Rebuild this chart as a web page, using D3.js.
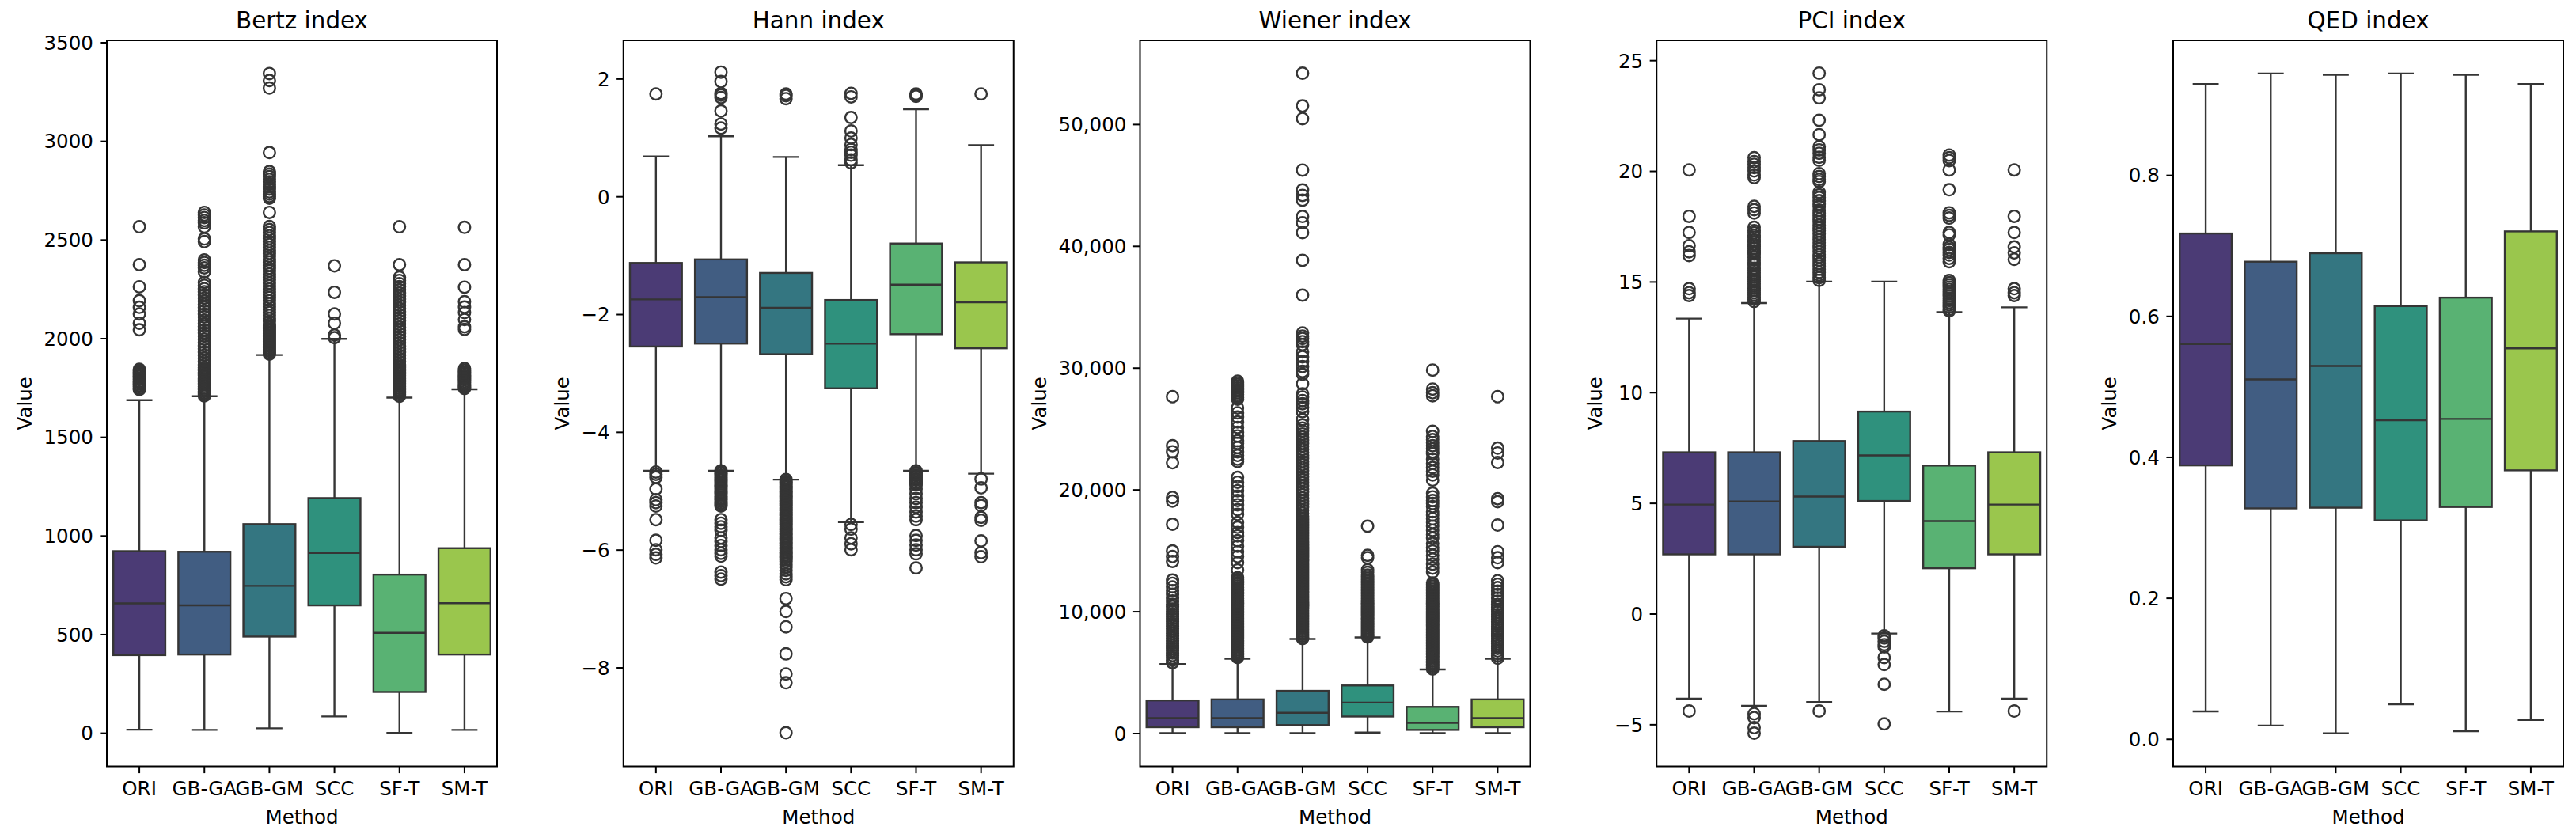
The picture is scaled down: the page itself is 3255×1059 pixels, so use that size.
<!DOCTYPE html>
<html>
<head>
<meta charset="utf-8">
<script src="https://cdn.jsdelivr.net/npm/d3@7"></script>
<style>
  body { margin: 0; background: #fff; }
  text { font-family: "DejaVu Sans", sans-serif; fill: #000; }
</style>
</head>
<body>
<div id="chart"></div>
<script>
// categories
const methods = ['ORI', 'GB-GA', 'GB-GM', 'SCC', 'SF-T', 'SM-T'];

// box stats per method: [lower whisker, q1, median, q3, upper whisker]
const bertzStats = [
  [16, 394, 656, 921, 1686],
  [15, 397, 646, 918, 1706],
  [23, 488, 745, 1058, 1915],
  [83, 646, 912, 1190, 1997],
  [0, 207, 507, 802, 1699],
  [15, 397, 657, 936, 1741]
];
const bertzOutliers = [
  [2565, 2373, 2261, 2190, 2157, 2123, 2076, 2043, 1842, 1835, 1827, 1820, 1812, 1806, 1797, 1790, 1782, 1776, 1768, 1761, 1754, 1746, 1740],
  [2638, 2625, 2612, 2597, 2585, 2565, 2504, 2490, 2397, 2384, 2370, 2357, 2337, 2283, 2268, 2251, 2236, 2219, 2203, 2188, 2171, 2156, 2139, 2122, 2108, 2091, 2074, 2060, 2042, 2027, 2011, 1995, 1979, 1962, 1947, 1930, 1914, 1899, 1882, 1866, 1851, 1843, 1836, 1827, 1819, 1812, 1803, 1795, 1788, 1779, 1771, 1764, 1755, 1747, 1740, 1731, 1723, 1716, 1708],
  [3342, 3306, 3268, 2941, 2845, 2832, 2820, 2806, 2793, 2781, 2768, 2756, 2742, 2731, 2719, 2710, 2638, 2566, 2551, 2536, 2520, 2506, 2490, 2476, 2461, 2445, 2430, 2416, 2400, 2386, 2370, 2355, 2341, 2325, 2310, 2296, 2280, 2265, 2250, 2235, 2220, 2206, 2190, 2175, 2160, 2145, 2131, 2116, 2100, 2086, 2071, 2062, 2055, 2047, 2039, 2031, 2023, 2015, 2007, 1999, 1991, 1983, 1975, 1967, 1959, 1951, 1943, 1935, 1927, 1920],
  [2367, 2233, 2123, 2076, 2016, 2003],
  [2565, 2373, 2309, 2293, 2277, 2262, 2246, 2230, 2214, 2198, 2183, 2167, 2151, 2135, 2119, 2104, 2088, 2072, 2056, 2040, 2025, 2009, 1993, 1977, 1961, 1946, 1930, 1914, 1898, 1882, 1866, 1858, 1850, 1842, 1834, 1826, 1818, 1810, 1802, 1794, 1786, 1778, 1770, 1762, 1754, 1746, 1738, 1730, 1722, 1714, 1706],
  [2562, 2373, 2259, 2185, 2158, 2130, 2095, 2058, 2045, 1846, 1838, 1829, 1821, 1812, 1805, 1797, 1789, 1781, 1774, 1766, 1759, 1752, 1745]
];

const hannStats = [
  [-4.66, -2.55, -1.75, -1.13, 0.68],
  [-4.66, -2.50, -1.71, -1.07, 1.02],
  [-4.81, -2.68, -1.89, -1.30, 0.67],
  [-5.53, -3.26, -2.50, -1.76, 0.53],
  [-4.66, -2.34, -1.50, -0.80, 1.48],
  [-4.71, -2.58, -1.80, -1.12, 0.87]
];
const hannOutliers = [
  [1.74, -4.68, -4.72, -4.77, -4.97, -5.15, -5.20, -5.26, -5.49, -5.84, -6.00, -6.08, -6.14],
  [2.11, 1.95, 1.75, 1.72, 1.68, 1.45, 1.23, 1.16, -4.66, -4.69, -4.71, -4.74, -4.77, -4.80, -4.82, -4.85, -4.88, -4.91, -4.93, -4.96, -4.99, -5.02, -5.04, -5.07, -5.10, -5.13, -5.15, -5.18, -5.21, -5.24, -5.26, -5.49, -5.55, -5.61, -5.67, -5.80, -5.86, -5.93, -6.00, -6.06, -6.11, -6.38, -6.44, -6.50],
  [1.74, 1.71, 1.66, -4.81, -4.84, -4.86, -4.89, -4.92, -4.94, -4.97, -5.00, -5.02, -5.05, -5.08, -5.10, -5.13, -5.16, -5.18, -5.21, -5.24, -5.26, -5.29, -5.32, -5.34, -5.37, -5.40, -5.42, -5.45, -5.48, -5.50, -5.53, -5.56, -5.58, -5.61, -5.64, -5.66, -5.69, -5.72, -5.74, -5.77, -5.80, -5.82, -5.85, -5.88, -5.90, -5.93, -5.96, -5.98, -6.01, -6.04, -6.06, -6.09, -6.12, -6.14, -6.17, -6.20, -6.25, -6.30, -6.35, -6.41, -6.46, -6.51, -6.83, -7.05, -7.31, -7.77, -8.11, -8.26, -9.11],
  [1.75, 1.69, 1.34, 1.11, 0.99, 0.88, 0.80, 0.75, 0.70, 0.62, 0.57, -5.57, -5.65, -5.80, -5.90, -6.00],
  [1.74, 1.72, 1.70, -4.66, -4.69, -4.71, -4.74, -4.77, -4.80, -4.82, -4.85, -4.88, -4.90, -4.97, -5.05, -5.13, -5.20, -5.28, -5.36, -5.43, -5.49, -5.76, -5.84, -5.92, -6.00, -6.07, -6.31],
  [1.74, -4.80, -4.95, -5.20, -5.25, -5.45, -5.50, -5.85, -6.05, -6.12]
];

const wienerStats = [
  [0, 487, 1234, 2683, 5666],
  [0, 487, 1234, 2770, 6107],
  [0, 663, 1670, 3470, 7733],
  [45, 1365, 2508, 3912, 7863],
  [0, 266, 838, 2157, 5224],
  [0, 487, 1234, 2770, 6107]
];
const wienerOutliers = [
  [27620, 23600, 23100, 22200, 19350, 19050, 17150, 14950, 14500, 14100, 12570, 12300, 12000, 11700, 11400, 11100, 10850, 10580, 10380, 10180, 9980, 9780, 9580, 9380, 9180, 8980, 8780, 8580, 8380, 8180, 7980, 7780, 7580, 7380, 7180, 6980, 6780, 6580, 6380, 6180, 5980, 5780],
  [28900, 28760, 28620, 28490, 28350, 28210, 28080, 27950, 27810, 27680, 27550, 27420, 26700, 26300, 25950, 25550, 25100, 24700, 24400, 24000, 23800, 23450, 23100, 22800, 22500, 22300, 21000, 20600, 20250, 19900, 19460, 19100, 18750, 18350, 17960, 17300, 16900, 16470, 16200, 15800, 15350, 14900, 14500, 14000, 13400,
   12760, 12620, 12490, 12350, 12230, 12090, 11960, 11830, 11700, 11560, 11440, 11300, 11170, 11040, 10910, 10770, 10650, 10510, 10380, 10250, 10120, 9990, 9860, 9720, 9600, 9460, 9330, 9200, 9070, 8940, 8810, 8670, 8550, 8410, 8280, 8150, 8020, 7890, 7760, 7620, 7500, 7360, 7230, 7100, 6970, 6840, 6710, 6570, 6450, 6320, 6200],
  [54180, 51500, 50450, 46230, 44600, 44150, 43760, 42420, 41900, 41100, 38820, 35960, 32850, 32600, 32400, 32150, 31900, 31300, 30900, 30500, 30100, 29700, 29460, 28680, 27850, 27600, 27300, 27050, 26750, 26400, 25760,
   25300, 25050, 24800, 24560, 24300, 24050, 23800, 23560, 23300, 23050, 22800, 22560, 22300, 22050, 21800, 21560, 21300, 21050, 20800, 20560, 20300, 20050, 19800, 19560, 19300, 19050, 18800, 18560, 18300, 18050, 17800,
   17660, 17530, 17400, 17270, 17140, 17010, 16880, 16740, 16620, 16480, 16350, 16220, 16090, 15960, 15830, 15700, 15560, 15440, 15300, 15170, 15040, 14910, 14780, 14650, 14520, 14390, 14250, 14130, 13990, 13860, 13730, 13600, 13470, 13340, 13210, 13080, 12940, 12820, 12680, 12550, 12420, 12290, 12160, 12030, 11900, 11770, 11630, 11510, 11370, 11240, 11110, 10980, 10850, 10720, 10590, 10460, 10320, 10200, 10060, 9930, 9800, 9670, 9540, 9410, 9280, 9150, 9010, 8890, 8750, 8620, 8490, 8360, 8230, 8100, 7970, 7840, 7760],
  [16990, 14600, 14400, 13410, 13200, 12980, 12850, 12720, 12590, 12460, 12330, 12200, 12060, 11940, 11800, 11670, 11540, 11410, 11280, 11150, 11020, 10890, 10750, 10630, 10490, 10360, 10230, 10100, 9970, 9840, 9710, 9580, 9440, 9320, 9180, 9050, 8920, 8790, 8660, 8530, 8400, 8270, 8130, 8010, 7900],
  [29810, 28250, 27950, 27700, 24780, 24350, 24100, 23850, 23600, 23350, 23100, 22940, 22500, 22150, 21800, 21500, 21200, 20775, 19700, 19400, 19100, 18850, 18600, 18180, 17900, 17600, 17300, 16990, 16650, 16300, 16010, 15570, 15250, 14950, 14600, 14280, 13870, 13550, 13220,
   12330, 12200, 12070, 11940, 11810, 11680, 11540, 11420, 11280, 11150, 11020, 10890, 10760, 10630, 10500, 10370, 10230, 10110, 9970, 9840, 9710, 9580, 9450, 9320, 9190, 9060, 8920, 8800, 8660, 8530, 8400, 8270, 8140, 8010, 7880, 7750, 7610, 7490, 7350, 7220, 7090, 6960, 6830, 6700, 6570, 6440, 6300, 6180, 6040, 5910, 5780, 5650, 5520, 5390, 5260],
  [27620, 23400, 23000, 22220, 19250, 19000, 17080, 14900, 14400, 14000, 12510, 12220, 11950, 11660, 11380, 11090, 10830, 10560, 10350, 10150, 9950, 9750, 9550, 9350, 9150, 8950, 8750, 8550, 8350, 8150, 7950, 7750, 7550, 7350, 7150, 6950, 6750, 6550, 6350, 6150]
];

const pciStats = [
  [-3.84, 2.68, 4.93, 7.29, 13.33],
  [-4.16, 2.68, 5.07, 7.29, 14.03],
  [-3.99, 3.02, 5.29, 7.80, 15.00],
  [-0.90, 5.09, 7.15, 9.13, 15.00],
  [-4.42, 2.05, 4.18, 6.69, 13.62],
  [-3.84, 2.68, 4.93, 7.29, 13.84]
];
const pciOutliers = [
  [20.05, 17.95, 17.22, 16.62, 16.35, 16.18, 14.68, 14.50, 14.37, -4.40],
  [20.60, 20.42, 20.30, 20.15, 20.00, 19.82, 19.70, 18.40, 18.25, 18.10, 17.45, 17.30, 17.20, 17.08, 17.00, 16.88, 16.80, 16.68, 16.60, 16.50, 16.40, 16.32, 16.25, 16.10, 15.98, 15.85, 15.75, 15.60, 15.50, 15.40, 15.30, 15.20, 15.10, 15.00, 14.90, 14.80, 14.70, 14.60, 14.50, 14.40, 14.30, 14.20, 14.10, -4.52, -4.70, -5.15, -5.40],
  [24.42, 23.67, 23.30, 22.29, 21.64, 21.09, 20.95, 20.80, 20.62, 20.48, 19.88, 19.75, 19.62, 19.52, 19.04, 18.92, 18.80, 18.66, 18.50, 18.38, 18.22, 18.10, 17.96, 17.82, 17.70, 17.55, 17.42, 17.30, 17.16, 17.02, 16.90, 16.76, 16.62, 16.50, 16.36, 16.22, 16.10, 15.96, 15.82, 15.70, 15.56, 15.42, 15.30, 15.18, 15.06, -4.40],
  [-1.00, -1.10, -1.25, -1.40, -1.50, -1.98, -2.30, -3.19, -4.98],
  [20.72, 20.60, 20.47, 20.05, 19.15, 18.11, 17.99, 17.87, 17.22, 17.11, 16.68, 16.55, 16.45, 16.32, 16.20, 16.05, 15.90, 15.05, 14.95, 14.85, 14.75, 14.65, 14.55, 14.45, 14.35, 14.25, 14.15, 14.05, 13.95, 13.85, 13.75, 13.68],
  [20.05, 17.95, 17.22, 16.57, 16.30, 16.01, 14.68, 14.50, 14.37, -4.40]
];

const qedStats = [
  [0.039, 0.388, 0.560, 0.717, 0.929],
  [0.019, 0.327, 0.510, 0.677, 0.944],
  [0.008, 0.328, 0.529, 0.689, 0.942],
  [0.049, 0.310, 0.452, 0.614, 0.944],
  [0.011, 0.329, 0.454, 0.626, 0.942],
  [0.027, 0.381, 0.554, 0.720, 0.929]
];
const qedOutliers = [[], [], [], [], [], []];

// axis ranges and ticks
const bertzDomain = [-170, 3510];
const hannDomain = [-9.68, 2.65];
const wienerDomain = [-2730, 56880];
const pciDomain = [-6.9, 25.9];
const qedDomain = [-0.039, 0.991];

const bertzTicks = [0, 500, 1000, 1500, 2000, 2500, 3000, 3500];
const hannTicks = [-8, -6, -4, -2, 0, 2];
const wienerTicks = [0, 10000, 20000, 30000, 40000, 50000];
const pciTicks = [-5, 0, 5, 10, 15, 20, 25];
const qedTicks = [0, 0.2, 0.4, 0.6, 0.8];

const panels = [
  { title: 'Bertz index', stats: bertzStats, outliers: bertzOutliers, domain: bertzDomain, ticks: bertzTicks, fmt: d3.format('d') },
  { title: 'Hann index', stats: hannStats, outliers: hannOutliers, domain: hannDomain, ticks: hannTicks, fmt: d3.format('d') },
  { title: 'Wiener index', stats: wienerStats, outliers: wienerOutliers, domain: wienerDomain, ticks: wienerTicks, fmt: d3.format(',') },
  { title: 'PCI index', stats: pciStats, outliers: pciOutliers, domain: pciDomain, ticks: pciTicks, fmt: d3.format('d') },
  { title: 'QED index', stats: qedStats, outliers: qedOutliers, domain: qedDomain, ticks: qedTicks, fmt: d3.format('.1f') }
];

// layout
const W = 3255, H = 1059;
const plotTop = 51, plotBottom = 968.5;
const plotW = 493, firstLeft = 135, step = 652.75;
const tickLen = 8.6, tickPad = 8.6;
const fsTick = 24.5, fsTitle = 29.4, fsLabel = 24.5;
const lw = 2.4;

// viridis palette, desaturated like seaborn
const palette = methods.map((m, i) => {
  const c = d3.hsl(d3.interpolateViridis((i + 1) / (methods.length + 1)));
  c.s *= 0.75;
  return c.formatHex();
});
const lum = d3.min(palette, c => d3.hsl(c).l) * 0.6;
const gray = d3.rgb(lum * 255, lum * 255, lum * 255).formatHex();

const svg = d3.select('#chart')
  .append('svg')
  .attr('width', W)
  .attr('height', H);

panels.forEach((p, pi) => {
  const left = firstLeft + step * pi;
  const g = svg.append('g').attr('transform', `translate(${left},${plotTop})`);
  const h = plotBottom - plotTop;

  const x = d3.scaleBand().domain(methods).range([0, plotW]);
  const y = d3.scaleLinear().domain(p.domain).range([h, 0]);
  const bw = x.bandwidth() * 0.8;
  const cw = bw * 0.5;

  // y axis
  const ya = g.append('g')
    .call(d3.axisLeft(y).tickValues(p.ticks).tickSize(tickLen).tickPadding(tickPad).tickFormat(p.fmt));
  ya.select('.domain').remove();
  ya.selectAll('.tick line').attr('stroke', '#000').attr('stroke-width', 2);
  ya.selectAll('.tick text')
    .attr('font-size', fsTick)
    .attr('dy', '0.36em')
    .style('font-family', 'DejaVu Sans');

  // x axis
  const xa = g.append('g')
    .attr('transform', `translate(0,${h})`)
    .call(d3.axisBottom(x).tickSize(tickLen).tickPadding(tickPad));
  xa.select('.domain').remove();
  xa.selectAll('.tick line').attr('stroke', '#000').attr('stroke-width', 2);
  xa.selectAll('.tick text')
    .attr('font-size', fsTick)
    .attr('dy', '0.78em')
    .style('font-family', 'DejaVu Sans');

  // boxes
  const box = g.append('g')
    .selectAll('g')
    .data(p.stats)
    .join('g')
    .attr('transform', (d, i) => `translate(${x(methods[i]) + x.bandwidth() / 2},0)`);

  box.append('line')
    .attr('x1', 0).attr('x2', 0)
    .attr('y1', d => y(d[1])).attr('y2', d => y(d[0]))
    .attr('stroke', gray).attr('stroke-width', lw);
  box.append('line')
    .attr('x1', 0).attr('x2', 0)
    .attr('y1', d => y(d[3])).attr('y2', d => y(d[4]))
    .attr('stroke', gray).attr('stroke-width', lw);
  box.append('line')
    .attr('x1', -cw / 2).attr('x2', cw / 2)
    .attr('y1', d => y(d[0])).attr('y2', d => y(d[0]))
    .attr('stroke', gray).attr('stroke-width', lw);
  box.append('line')
    .attr('x1', -cw / 2).attr('x2', cw / 2)
    .attr('y1', d => y(d[4])).attr('y2', d => y(d[4]))
    .attr('stroke', gray).attr('stroke-width', lw);

  box.append('rect')
    .attr('x', -bw / 2)
    .attr('width', bw)
    .attr('y', d => y(d[3]))
    .attr('height', d => y(d[1]) - y(d[3]))
    .attr('fill', (d, i) => palette[i])
    .attr('stroke', gray)
    .attr('stroke-width', lw);

  box.append('line')
    .attr('x1', -bw / 2).attr('x2', bw / 2)
    .attr('y1', d => y(d[2])).attr('y2', d => y(d[2]))
    .attr('stroke', gray).attr('stroke-width', lw);

  // fliers
  box.each(function(d, i) {
    d3.select(this).selectAll('circle')
      .data(p.outliers[i])
      .join('circle')
      .attr('cx', 0)
      .attr('cy', v => y(v))
      .attr('r', 7.3)
      .attr('fill', 'none')
      .attr('stroke', gray)
      .attr('stroke-width', lw);
  });

  // frame
  g.append('rect')
    .attr('width', plotW).attr('height', h)
    .attr('fill', 'none')
    .attr('stroke', '#000')
    .attr('stroke-width', 2);

  // title
  g.append('text')
    .attr('x', plotW / 2)
    .attr('y', -15)
    .attr('text-anchor', 'middle')
    .attr('font-size', fsTitle)
    .text(p.title);

  // x label
  g.append('text')
    .attr('x', plotW / 2)
    .attr('y', h + 72)
    .attr('text-anchor', 'middle')
    .attr('font-size', fsLabel)
    .text('Method');

  // y label, placed left of the widest tick label
  const bb = ya.node().getBBox();
  const lx = bb.x - 9.8 - fsLabel * 0.236;
  g.append('text')
    .attr('transform', `translate(${lx},${h / 2}) rotate(-90)`)
    .attr('text-anchor', 'middle')
    .attr('font-size', fsLabel)
    .text('Value');
});
</script>
</body>
</html>
